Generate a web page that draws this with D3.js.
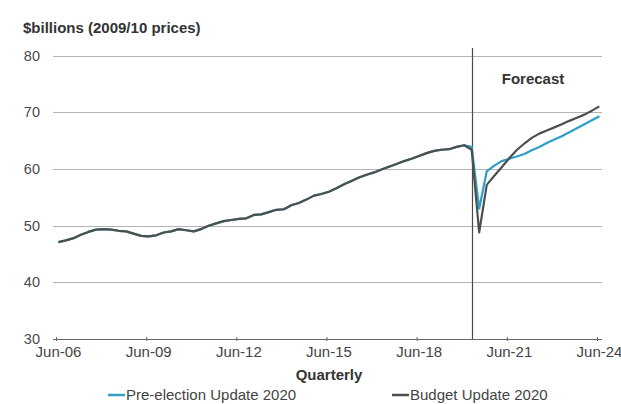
<!DOCTYPE html>
<html>
<head>
<meta charset="utf-8">
<script src="https://cdn.jsdelivr.net/npm/d3@7"></script>
<style>
  html, body { margin: 0; padding: 0; background: #fff; }
  svg { display: block; font-family: "Liberation Sans", Arial, sans-serif; }
</style>
</head>
<body>
<svg id="chart" width="621" height="404"></svg>
<script>
// Quarterly real values, $billions (2009/10 prices), Jun-06 .. Jun-24
const startQuarter = new Date(2006, 5, 1);
const endQuarter = new Date(2024, 5, 1);
const forecastStart = new Date(2020, 3, 1);

// Actuals Jun-06 .. Dec-19 (shared by both updates)
const actuals = [
  47.1, 47.4, 47.8, 48.4, 48.9, 49.3, 49.4, 49.3, 49.1, 49.0,
  48.6, 48.2, 48.1, 48.3, 48.8, 49.0, 49.4, 49.2, 49.0, 49.4,
  50.0, 50.4, 50.8, 51.0, 51.2, 51.3, 51.9, 52.0, 52.4, 52.8,
  52.9, 53.6, 54.0, 54.6, 55.3, 55.6, 56.0, 56.6, 57.3, 57.9,
  58.5, 59.0, 59.4, 59.9, 60.4, 60.9, 61.4, 61.8, 62.3, 62.8,
  63.2, 63.4, 63.5, 63.9, 64.2
];

// Mar-20 .. Jun-24
const preElection = [
  63.9, 53.0, 59.6, 60.6, 61.4, 61.8, 62.2, 62.65, 63.3, 63.9,
  64.6, 65.2, 65.8, 66.5, 67.2, 67.9, 68.6, 69.3
];
const budget = [
  63.4, 48.8, 57.2, 58.8, 60.3, 61.9, 63.35, 64.5, 65.5, 66.25,
  66.8, 67.35, 67.9, 68.5, 69.05, 69.6, 70.3, 71.05
];

const seriesNames = ["Pre-election Update 2020", "Budget Update 2020"];
const seriesColors = ["#2e9fc6", "#4b504d"];
const yTicks = [30, 40, 50, 60, 70, 80];

// Each observation sits at the end of its quarter's last month
const quarters = d3.timeMonth.range(startQuarter, d3.timeMonth.offset(endQuarter, 1), 3)
  .map(d => d3.timeDay.offset(d3.timeMonth.offset(d, 1), -1));
const series = [preElection, budget].map((fc, i) => ({
  name: seriesNames[i],
  color: seriesColors[i],
  values: actuals.concat(fc).map((v, j) => ({ date: quarters[j], value: v }))
}));

const svg = d3.select("#chart");

const x = d3.scaleTime().domain([startQuarter, endQuarter]).range([56, 597]);
const y = d3.scaleLinear().domain([30, 80]).range([339, 55.7]);
const plotLeft = 53, plotRight = 602;

// Horizontal gridlines
svg.append("g")
  .selectAll("line")
  .data(yTicks.filter(d => d > 30))
  .join("line")
  .attr("x1", plotLeft).attr("x2", plotRight)
  .attr("y1", d => Math.round(y(d)) + 0.5).attr("y2", d => Math.round(y(d)) + 0.5)
  .attr("stroke", "#b4b4b4").attr("stroke-width", 1.2);

// Y tick labels
svg.append("g")
  .selectAll("text")
  .data(yTicks)
  .join("text")
  .attr("x", 40).attr("y", d => y(d) + 5)
  .attr("text-anchor", "end")
  .attr("font-size", 14.5)
  .attr("fill", "#4a4a4a")
  .text(d => d);

// Forecast divider
svg.append("line")
  .attr("x1", Math.round(x(forecastStart)) + 0.5).attr("x2", Math.round(x(forecastStart)) + 0.5)
  .attr("y1", 48).attr("y2", 339)
  .attr("stroke", "#4a4a4a").attr("stroke-width", 1.2);

svg.append("text")
  .attr("x", 533).attr("y", 84)
  .attr("text-anchor", "middle")
  .attr("font-size", 15).attr("font-weight", "bold")
  .attr("fill", "#333")
  .text("Forecast");

// X axis
const xAxis = d3.axisBottom(x)
  .tickValues(d3.range(2006, 2025, 3).map(yr => new Date(yr, 5, 1)))
  .tickFormat(d3.timeFormat("%b-%y"))
  .tickSizeInner(4).tickSizeOuter(0).tickPadding(5);

const gx = svg.append("g").attr("transform", "translate(0,339)").call(xAxis);
gx.select(".domain").remove();
gx.append("line")
  .attr("x1", plotLeft).attr("x2", plotRight).attr("y1", 0.5).attr("y2", 0.5)
  .attr("stroke", "#666").attr("stroke-width", 1.2);
gx.selectAll(".tick line").attr("y1", -2).attr("y2", 2).attr("stroke", "#666");
gx.selectAll(".tick text")
  .attr("font-size", 15).attr("fill", "#444")
  .attr("font-family", "Liberation Sans, Arial, sans-serif")
  .attr("dx", 2).attr("y", 7);

// Lines
const line = d3.line().x(d => x(d.date)).y(d => y(d.value)).curve(d3.curveLinear);
svg.append("g")
  .selectAll("path")
  .data(series)
  .join("path")
  .attr("d", d => line(d.values))
  .attr("fill", "none")
  .attr("stroke", d => d.color)
  .attr("stroke-width", 2.2)
  .attr("stroke-linejoin", "round");

// Titles
svg.append("text")
  .attr("x", 23).attr("y", 33)
  .attr("font-size", 15).attr("font-weight", "bold").attr("fill", "#333")
  .text("$billions (2009/10 prices)");

svg.append("text")
  .attr("x", 329).attr("y", 380)
  .attr("text-anchor", "middle")
  .attr("font-size", 15).attr("font-weight", "bold").attr("fill", "#333")
  .text("Quarterly");

// Legend
const legendX = [108, 392];
const lg = svg.append("g").selectAll("g").data(series).join("g")
  .attr("transform", (d, i) => `translate(${legendX[i]},395)`);
lg.append("line").attr("x1", 0).attr("x2", 17).attr("y1", 0).attr("y2", 0)
  .attr("stroke", d => d.color).attr("stroke-width", 2.5);
lg.append("text").attr("x", 18).attr("y", 5)
  .attr("font-size", 15).attr("fill", "#444")
  .text(d => d.name);
</script>
</body>
</html>
